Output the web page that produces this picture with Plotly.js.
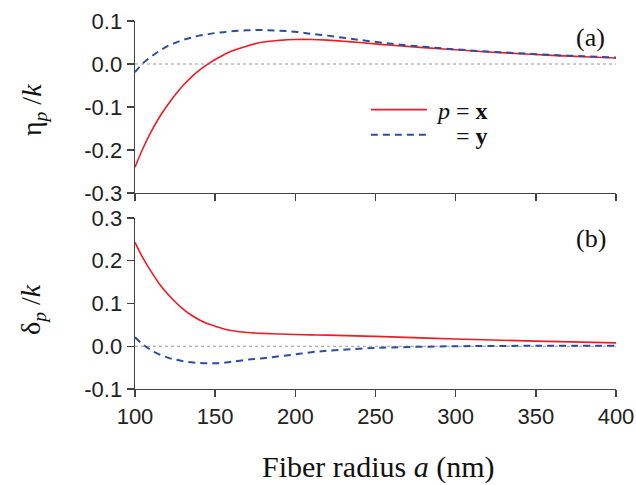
<!DOCTYPE html>
<html>
<head>
<meta charset="utf-8">
<script src="https://cdn.plot.ly/plotly-3.0.1.min.js"></script>
<style>html,body{margin:0;padding:0;background:#fff;}#chart{width:636px;height:485px;}</style>
</head>
<body>
<div id="chart"></div>
<script>
// Fiber radius a (nm)
const radiusEta = [100,105,110,115,120,125,130,135,140,145,150,155,160,170,180,190,200,210,220,230,240,260,280,300,320,340,360,380,400];
// eta_p/k for p = x (red solid)
const etaX = [-0.240,-0.196,-0.158,-0.125,-0.097,-0.072,-0.050,-0.031,-0.015,-0.0015,0.0105,0.0205,0.0295,0.042,0.051,0.055,0.057,0.057,0.0555,0.053,0.050,0.0435,0.038,0.033,0.028,0.024,0.020,0.017,0.014];
// eta_p/k for p = y (blue dashed)
const etaY = [-0.019,0.002,0.017,0.030,0.041,0.049,0.056,0.061,0.066,0.069,0.072,0.074,0.076,0.0785,0.079,0.0775,0.075,0.070,0.066,0.061,0.056,0.047,0.040,0.034,0.029,0.025,0.021,0.018,0.015];

const radiusDelta = [100,105,110,115,120,125,130,135,140,145,150,155,160,170,180,190,200,210,220,250,300,350,400];
// delta_p/k for p = x
const deltaX = [0.243,0.206,0.175,0.147,0.124,0.104,0.087,0.073,0.062,0.053,0.047,0.041,0.037,0.032,0.030,0.0285,0.0275,0.0265,0.026,0.023,0.017,0.012,0.008];
// delta_p/k for p = y
const deltaY = [0.021,0.004,-0.009,-0.019,-0.026,-0.031,-0.035,-0.0375,-0.039,-0.0398,-0.0398,-0.039,-0.0365,-0.0315,-0.028,-0.0235,-0.019,-0.014,-0.0105,-0.004,0.000,0.001,0.001];

const xTicks = [100,150,200,250,300,350,400];
const xTickText = ['100','150','200','250','300','350','400'];
const yTopTicks = [-0.3,-0.2,-0.1,0.0,0.1];
const yTopText = ['-0.3','-0.2','-0.1','0.0','0.1'];
const yBotTicks = [-0.1,0.0,0.1,0.2,0.3];
const yBotText = ['-0.1','0.0','0.1','0.2','0.3'];

const red = '#ee1c25';
const blue = '#2d4ea0';
const serif = 'Liberation Serif, Times New Roman, serif';
const NB = '\u00a0';

const traces = [
  {x: radiusEta, y: etaX, xaxis:'x2', yaxis:'y2', type:'scatter', mode:'lines', line:{color:red, width:1.6, shape:'spline'}, name: NB + '<i>p</i>' + NB + '=' + NB + '<b>x</b>', legend:'legend'},
  {x: radiusEta, y: etaY, xaxis:'x2', yaxis:'y2', type:'scatter', mode:'lines', line:{color:blue, width:2, dash:'7px,5px', shape:'spline'}, name: NB+NB+NB+NB + '=' + NB + '<b>y</b>', legend:'legend2'},
  {x: radiusDelta, y: deltaX, xaxis:'x', yaxis:'y', type:'scatter', mode:'lines', line:{color:red, width:1.6, shape:'spline'}, showlegend:false},
  {x: radiusDelta, y: deltaY, xaxis:'x', yaxis:'y', type:'scatter', mode:'lines', line:{color:blue, width:2, dash:'7px,5px', shape:'spline'}, showlegend:false}
];

const axisCommon = {
  showline:true, linecolor:'#444', linewidth:1.4, ticks:'outside', ticklen:7, tickwidth:1.4, tickcolor:'#444',
  showgrid:false, zeroline:false, mirror:false,
  tickfont:{family:'Liberation Sans, Arial, sans-serif', size:22, color:'#222'}
};

const legendCommon = {xanchor:'left', yanchor:'middle', bgcolor:'rgba(0,0,0,0)', borderwidth:0,
  font:{family:serif, size:24, color:'#111'}, itemwidth:56};

const layout = {
  width:636, height:485,
  margin:{l:135, r:20, t:21, b:96},
  paper_bgcolor:'#fff', plot_bgcolor:'#fff',
  showlegend:true,
  legend: Object.assign({}, legendCommon, {x:0.48, y:0.758}),
  legend2: Object.assign({}, legendCommon, {x:0.48, y:0.690}),
  xaxis: Object.assign({}, axisCommon, {domain:[0,1], range:[100,400], anchor:'y', tickvals:xTicks, ticktext:xTickText}),
  xaxis2: Object.assign({}, axisCommon, {domain:[0,1], range:[100,400], anchor:'y2', tickvals:xTicks, showticklabels:false}),
  yaxis: Object.assign({}, axisCommon, {domain:[0,0.4647], range:[-0.1,0.3], anchor:'x', tickvals:yBotTicks, ticktext:yBotText}),
  yaxis2: Object.assign({}, axisCommon, {domain:[0.5326,1], range:[-0.3,0.1], anchor:'x2', tickvals:yTopTicks, ticktext:yTopText}),
  shapes:[
    {type:'line', xref:'x2 domain', yref:'y2', x0:0, x1:1, y0:0, y1:0, line:{color:'#999', width:1, dash:'dot'}, layer:'below'},
    {type:'line', xref:'x domain', yref:'y', x0:0, x1:1, y0:0, y1:0, line:{color:'#999', width:1, dash:'dot'}, layer:'below'}
  ],
  annotations:[
    {text:'(a)', xref:'paper', yref:'paper', x:0.948, y:0.9565, xanchor:'center', yanchor:'middle', showarrow:false, font:{family:serif, size:26, color:'#111'}},
    {text:'(b)', xref:'paper', yref:'paper', x:0.948, y:0.4103, xanchor:'center', yanchor:'middle', showarrow:false, font:{family:serif, size:26, color:'#111'}},
    {text:'η<sub><i>p</i></sub> /<i>k</i>', xref:'paper', yref:'paper', x:-0.212, y:0.758, xanchor:'center', yanchor:'middle', textangle:-90, showarrow:false, font:{family:serif, size:28, color:'#111'}},
    {text:'δ<sub><i>p</i></sub> /<i>k</i>', xref:'paper', yref:'paper', x:-0.212, y:0.2147, xanchor:'center', yanchor:'middle', textangle:-90, showarrow:false, font:{family:serif, size:28, color:'#111'}},
    {text:'Fiber radius <i>a</i> (nm)', xref:'paper', yref:'paper', x:0.506, y:-0.212, xanchor:'center', yanchor:'middle', showarrow:false, font:{family:serif, size:30, color:'#111'}}
  ]
};

Plotly.newPlot('chart', traces, layout, {staticPlot:true, displayModeBar:false});
</script>
</body>
</html>
